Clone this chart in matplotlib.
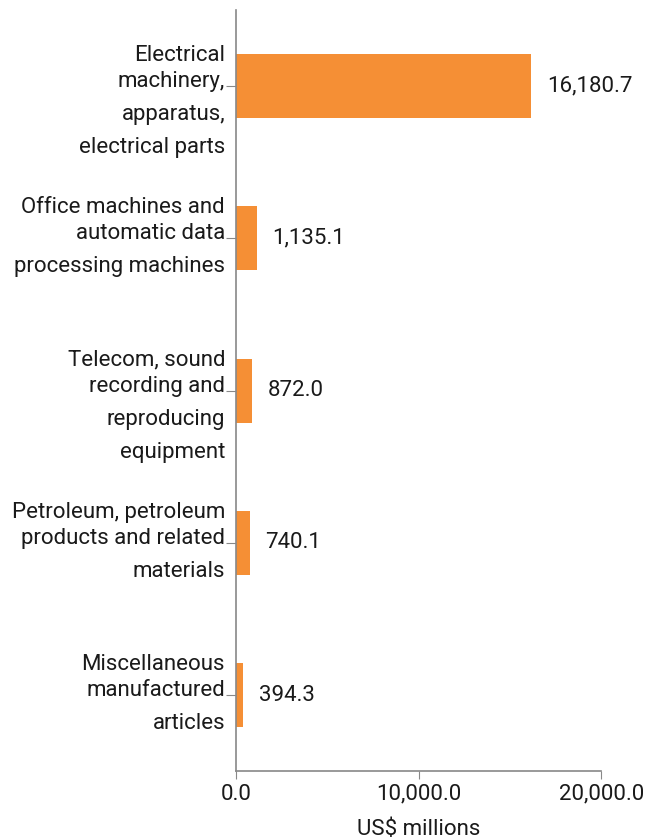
import matplotlib
matplotlib.use("Agg")
import matplotlib.pyplot as plt
from matplotlib.ticker import FuncFormatter

categories = [
    "Electrical\nmachinery,\napparatus,\nelectrical parts",
    "Office machines and\nautomatic data\nprocessing machines",
    "Telecom, sound\nrecording and\nreproducing\nequipment",
    "Petroleum, petroleum\nproducts and related\nmaterials",
    "Miscellaneous\nmanufactured\narticles",
]
values = [16180.7, 1135.1, 872.0, 740.1, 394.3]
x_ticks = [0, 10000, 20000]

BAR = "#F58F35"
TXT = "#1a1a1a"
AXC = "#888888"
FS = 16.0

plt.rcParams["font.family"] = ["Roboto", "DejaVu Sans"]

fig = plt.figure(figsize=(6.45, 8.4), dpi=100)
ax = fig.add_axes([0.366, 0.082, 0.566, 0.906])

pos = list(range(len(categories)))
ax.barh(pos, values, height=0.42, color=BAR)
for p, v in zip(pos, values):
    ax.annotate(f"{v:,.1f}", (v, p), xytext=(11, 0), textcoords="offset points",
                va="center", ha="left", fontsize=FS, color=TXT)

ax.set_ylim(4.5, -0.5)
ax.set_xlim(0, 20000)
ax.set_yticks(pos)
ax.set_yticklabels([""] * len(pos))
ax.set_xticks(x_ticks)
ax.xaxis.set_major_formatter(FuncFormatter(lambda v, _: f"{v:,.1f}"))
ax.tick_params(axis="x", colors=AXC, labelcolor=TXT, labelsize=FS, length=6, pad=3)
ax.tick_params(axis="y", colors=AXC, length=7)

# category labels: 2nd line's baseline on the tick, uneven line gaps as in the source
def line_offset(i):
    return -26 if i == 0 else 33 * (i - 1)

for p, cat in zip(pos, categories):
    for i, line in enumerate(cat.split("\n")):
        ax.annotate(line, xy=(0, p), xycoords=("axes fraction", "data"),
                    xytext=(-11, -line_offset(i) - 1), textcoords="offset pixels",
                    ha="right", va="baseline", fontsize=FS, color=TXT)

ax.set_xlabel("US$ millions", fontsize=FS, color=TXT, labelpad=10)

for s in ["top", "right"]:
    ax.spines[s].set_visible(False)
for s in ["left", "bottom"]:
    ax.spines[s].set_color(AXC)
    ax.spines[s].set_linewidth(1.2)

fig.savefig("out.png", dpi=100)
